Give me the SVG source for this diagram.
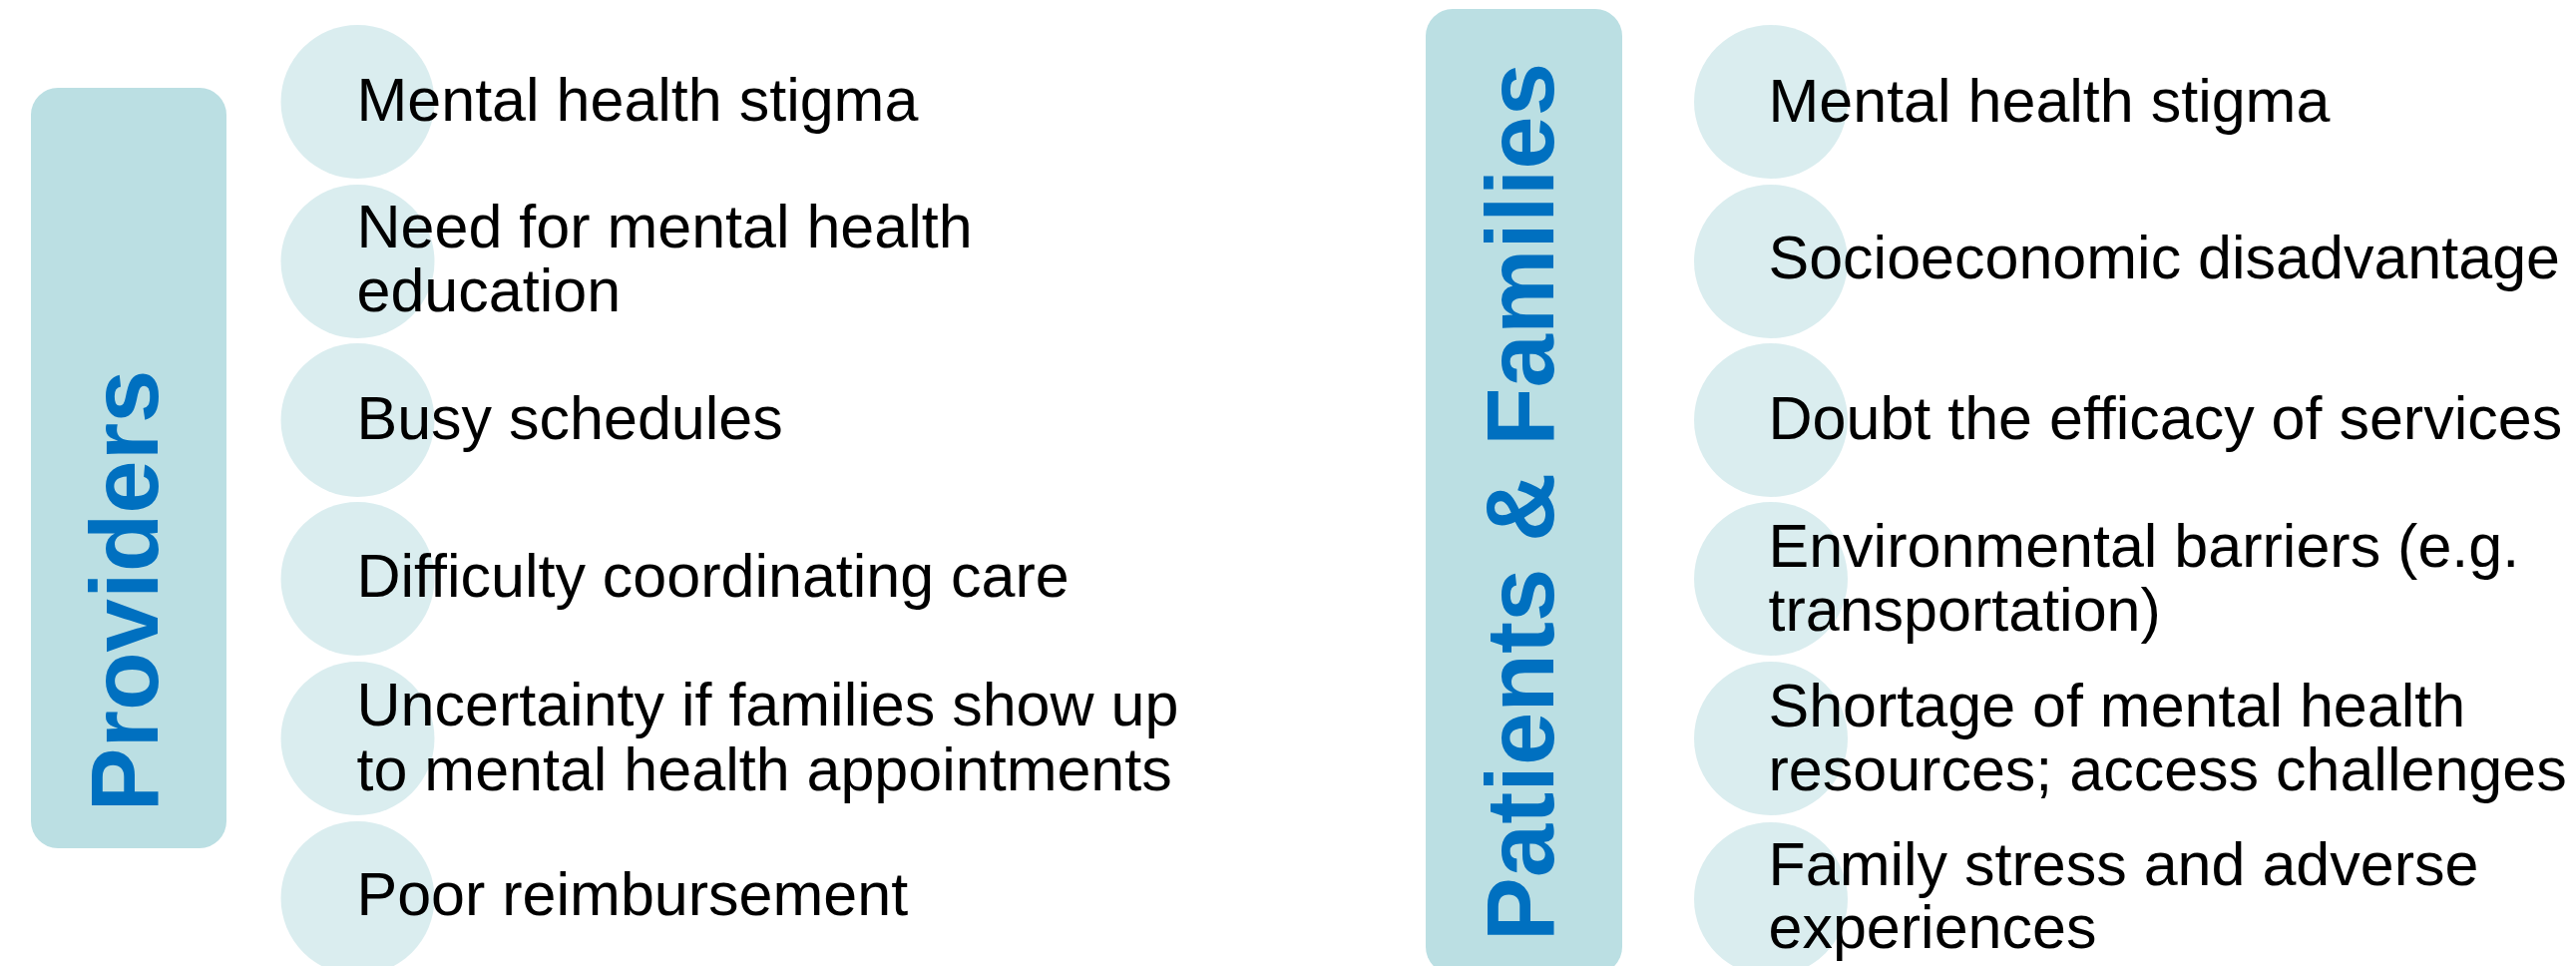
<svg xmlns="http://www.w3.org/2000/svg" width="2582" height="968" viewBox="0 0 2582 968">
<style>
.box{fill:#BBDFE3}
.dot{fill:#DAEDEF}
.hdr{font-family:"Liberation Sans",Arial,sans-serif;font-weight:bold;font-size:96px;fill:#0070C0;text-anchor:middle}
.lbl{font-family:"Liberation Sans",Arial,sans-serif;font-size:61px;fill:#000000}
</style>
<rect width="2582" height="968" fill="#FFFFFF"/>
<g id="providers">
<rect class="box" x="31" y="88" width="196" height="762" rx="27" ry="27"/>
<text class="hdr" transform="translate(158,592) rotate(-90)">Providers</text>
</g>
<g id="p1"><circle class="dot" cx="358.5" cy="102" r="77"/><text class="lbl" x="357.5" y="121">Mental health stigma</text></g>
<g id="p2"><circle class="dot" cx="358.5" cy="262" r="77"/><text class="lbl" x="357.5" y="248">Need for mental health</text><text class="lbl" x="357.5" y="312">education</text></g>
<g id="p3"><circle class="dot" cx="358.5" cy="421" r="77"/><text class="lbl" x="357.5" y="440">Busy schedules</text></g>
<g id="p4"><circle class="dot" cx="358.5" cy="580" r="77"/><text class="lbl" x="357.5" y="598">Difficulty coordinating care</text></g>
<g id="p5"><circle class="dot" cx="358.5" cy="740" r="77"/><text class="lbl" x="357.5" y="727">Uncertainty if families show up</text><text class="lbl" x="357.5" y="792">to mental health appointments</text></g>
<g id="p6"><circle class="dot" cx="358.5" cy="900" r="77"/><text class="lbl" x="357.5" y="917">Poor reimbursement</text></g>
<g id="patients">
<rect class="box" x="1429" y="9" width="197" height="967" rx="27" ry="27"/>
<text class="hdr" transform="translate(1557,503) rotate(-90)">Patients &amp; Families</text>
</g>
<g id="f1"><circle class="dot" cx="1775" cy="102" r="77"/><text class="lbl" x="1772.5" y="122">Mental health stigma</text></g>
<g id="f2"><circle class="dot" cx="1775" cy="262" r="77"/><text class="lbl" x="1772.5" y="279">Socioeconomic disadvantage</text></g>
<g id="f3"><circle class="dot" cx="1775" cy="421" r="77"/><text class="lbl" x="1772.5" y="440">Doubt the efficacy of services</text></g>
<g id="f4"><circle class="dot" cx="1775" cy="580" r="77"/><text class="lbl" x="1772.5" y="568">Environmental barriers (e.g.</text><text class="lbl" x="1772.5" y="632">transportation)</text></g>
<g id="f5"><circle class="dot" cx="1775" cy="740" r="77"/><text class="lbl" x="1772.5" y="728">Shortage of mental health</text><text class="lbl" x="1772.5" y="792">resources; access challenges</text></g>
<g id="f6"><circle class="dot" cx="1775" cy="901" r="77"/><text class="lbl" x="1772.5" y="887">Family stress and adverse</text><text class="lbl" x="1772.5" y="950">experiences</text></g>
<g id="connectors"></g>
</svg>
